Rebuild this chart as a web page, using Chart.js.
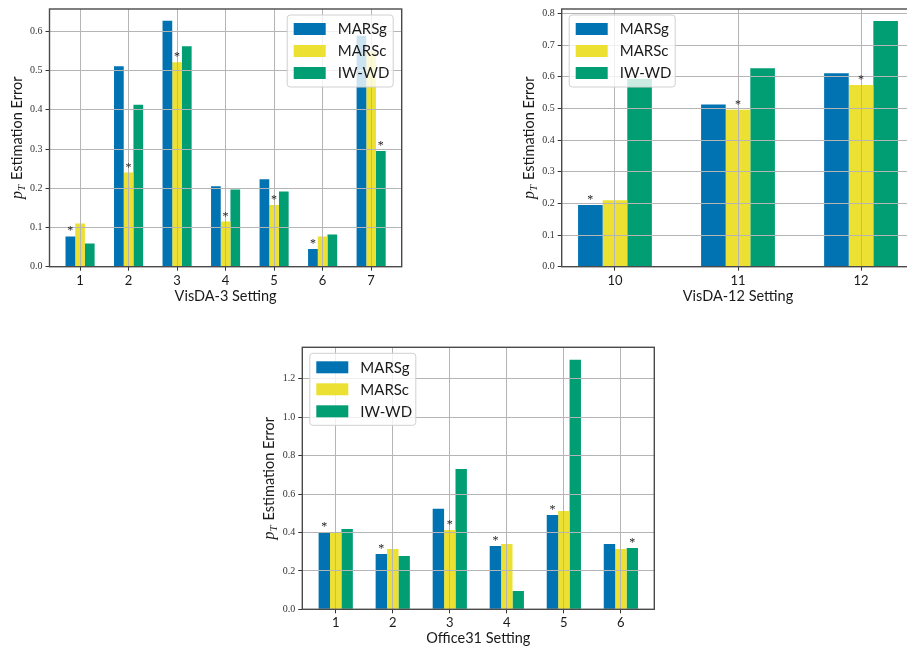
<!DOCTYPE html>
<html>
<head>
<meta charset="utf-8">
<script src="https://cdn.jsdelivr.net/npm/chart.js@4.4.1/dist/chart.umd.min.js"></script>
<style>
  html, body { margin: 0; padding: 0; background: #fff; }
  body { width: 907px; height: 652px; position: relative; overflow: hidden; }
  canvas { position: absolute; }
</style>
</head>
<body>
<canvas id="visda3" width="430" height="320" style="left:0px;top:0px"></canvas>
<canvas id="visda12" width="430" height="320" style="left:500px;top:0px"></canvas>
<canvas id="office31" width="430" height="322" style="left:250px;top:330px"></canvas>
<script>
// VisDA-3
const v3_settings = [1, 2, 3, 4, 5, 6, 7];
const v3_marsg = [0.077, 0.511, 0.627, 0.205, 0.223, 0.045, 0.589];
const v3_marsc = [0.110, 0.240, 0.521, 0.115, 0.157, 0.077, 0.548];
const v3_iwwd  = [0.059, 0.413, 0.562, 0.197, 0.192, 0.082, 0.295];
const v3_star  = [0, 1, 1, 1, 1, 0, 2]; // which bar gets the asterisk

// VisDA-12
const v12_settings = [10, 11, 12];
const v12_marsg = [0.195, 0.512, 0.611];
const v12_marsc = [0.210, 0.496, 0.574];
const v12_iwwd  = [0.593, 0.627, 0.776];
const v12_star  = [0, 1, 1];

// Office31
const o31_settings = [1, 2, 3, 4, 5, 6];
const o31_marsg = [0.401, 0.288, 0.523, 0.330, 0.491, 0.340];
const o31_marsc = [0.401, 0.314, 0.413, 0.340, 0.512, 0.314];
const o31_iwwd  = [0.418, 0.278, 0.731, 0.095, 1.299, 0.319];
const o31_star  = [0, 0, 1, 0, 0, 2];

const series_names = ["MARSg", "MARSc", "IW-WD"];
const series_colors = ["#0173b2", "#ece133", "#029e73"];

// axes, titles, legend and asterisks drawn on top
const decor = {
  id: "decor",
  afterDraw(chart) {
    const o = chart.options.plugins.decor;
    const ctx = chart.ctx;
    const a = chart.chartArea;
    ctx.save();

    // asterisks over the marked bars
    ctx.fillStyle = "#222";
    ctx.font = '12px "Liberation Serif"';
    ctx.textAlign = "center";
    ctx.textBaseline = "alphabetic";
    o.stars.forEach((ds, j) => {
      const bar = chart.getDatasetMeta(ds).data[j];
      ctx.fillText("*", bar.x, bar.y - 2);
    });

    // spines
    ctx.strokeStyle = "#4a4a4a";
    ctx.lineWidth = 1.4;
    ctx.strokeRect(a.left, a.top, a.right - a.left, a.bottom - a.top);

    // x title
    ctx.fillStyle = "#1a1a1a";
    ctx.font = "14.5px Lato";
    ctx.textAlign = "center";
    ctx.textBaseline = "middle";
    ctx.fillText(o.xTitle, (a.left + a.right) / 2, a.bottom + 29.5);

    // y title: p_T Estimation Error
    ctx.save();
    ctx.translate(a.left - 33, (a.top + a.bottom) / 2);
    ctx.rotate(-Math.PI / 2);
    ctx.textAlign = "left";
    ctx.textBaseline = "alphabetic";
    const fP = 'italic 16px "Liberation Serif"', fT = 'italic 11px "Liberation Serif"', fR = "14.5px Lato";
    ctx.font = fP; const wp = ctx.measureText("p").width;
    ctx.font = fT; const wt = ctx.measureText("T").width;
    ctx.font = fR; const wr = ctx.measureText("Estimation Error").width;
    const total = wp + wt + 5 + wr;
    let x = -total / 2;
    ctx.font = fP; ctx.fillText("p", x, 5); x += wp;
    ctx.font = fT; ctx.fillText("T", x, 8); x += wt + 5;
    ctx.font = fR; ctx.fillText("Estimation Error", x, 5);
    ctx.restore();

    // legend
    const w = 106, h = 72;
    const x0 = o.legendSide === "right" ? a.right - 8.5 - w : a.left + 7.5;
    const y0 = a.top + 6;
    ctx.beginPath();
    ctx.roundRect(x0, y0, w, h, 3);
    ctx.fillStyle = "rgba(255,255,255,0.8)";
    ctx.fill();
    ctx.strokeStyle = "#d0d0d0";
    ctx.lineWidth = 1;
    ctx.stroke();
    ctx.font = "15px Lato";
    ctx.textBaseline = "middle";
    ctx.textAlign = "left";
    chart.data.datasets.forEach((d, i) => {
      const cy = y0 + 14 + i * 22;
      ctx.fillStyle = d.backgroundColor;
      ctx.fillRect(x0 + 6.5, cy - 6, 32, 12);
      ctx.fillStyle = "#1a1a1a";
      ctx.fillText(d.label, x0 + 50.5, cy + 0.5);
    });
    ctx.restore();
  }
};

function makeChart(id, settings, series, stars, opts) {
  const datasets = series.map((vals, i) => ({
    label: series_names[i],
    data: settings.map((s, k) => ({ x: s, y: vals[k] })),
    backgroundColor: series_colors[i],
    borderWidth: 0,
    categoryPercentage: 0.6,
    barPercentage: 1.0
  }));
  return new Chart(document.getElementById(id), {
    type: "bar",
    data: { datasets: datasets },
    plugins: [decor],
    options: {
      responsive: false,
      animation: false,
      layout: { padding: opts.padding },
      plugins: {
        legend: { display: false },
        tooltip: { enabled: false },
        decor: { stars: stars, xTitle: opts.xTitle, legendSide: opts.legendSide }
      },
      scales: {
        x: {
          type: "linear",
          min: opts.xmin,
          max: opts.xmax,
          offset: false,
          afterBuildTicks: (s) => { s.ticks = settings.map(v => ({ value: v })); },
          afterFit: (s) => { s.height = opts.xHeight; },
          grid: { offset: false, z: 1, color: "#b5b5b5", lineWidth: 1, tickColor: "#333", tickLength: 4 },
          border: { display: false },
          ticks: { font: { family: "Lato", size: 13 }, color: "#1a1a1a", padding: 2, maxRotation: 0,
                   callback: (v) => String(v) }
        },
        y: {
          min: 0,
          max: opts.ymax,
          afterFit: (s) => { s.width = opts.yWidth; },
          grid: { z: 1, color: "#b5b5b5", lineWidth: 1, tickColor: "#333", tickLength: 4 },
          border: { display: false },
          ticks: { stepSize: opts.ystep, includeBounds: false, padding: 3,
                   font: { family: "Liberation Serif", size: 10 }, color: "#333",
                   callback: (v) => v.toFixed(1) }
        }
      }
    }
  });
}

makeChart("visda3", v3_settings, [v3_marsg, v3_marsc, v3_iwwd], v3_star, {
  xmin: 0.37, xmax: 7.63, ymax: 0.657, ystep: 0.1,
  yWidth: 49.5, xHeight: 53.3,
  padding: { left: 0, top: 4.7, right: 28.3, bottom: 0 },
  xTitle: "VisDA-3 Setting", legendSide: "right"
});

makeChart("visda12", v12_settings, [v12_marsg, v12_marsc, v12_iwwd], v12_star, {
  xmin: 9.567, xmax: 12.433, ymax: 0.814, ystep: 0.1,
  yWidth: 61.7, xHeight: 53.3,
  padding: { left: 0, top: 5.3, right: 15.7, bottom: 0 },
  xTitle: "VisDA-12 Setting", legendSide: "left"
});

makeChart("office31", o31_settings, [o31_marsg, o31_marsc, o31_iwwd], o31_star, {
  xmin: 0.414, xmax: 6.586, ymax: 1.364, ystep: 0.2,
  yWidth: 52.3, xHeight: 42.7,
  padding: { left: 0, top: 17.3, right: 25.7, bottom: 0 },
  xTitle: "Office31 Setting", legendSide: "left"
});
</script>
</body>
</html>
